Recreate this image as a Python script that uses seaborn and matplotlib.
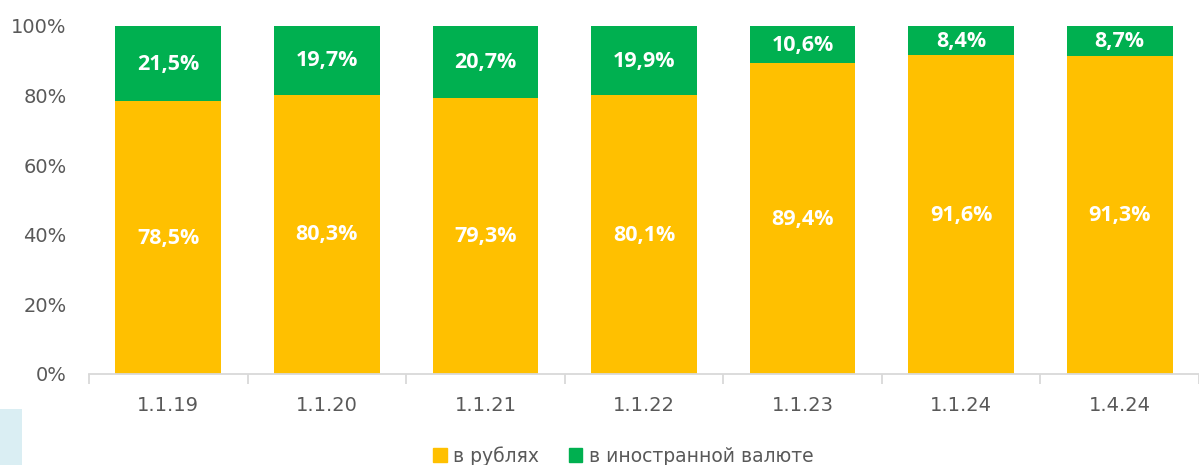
import matplotlib
matplotlib.use("Agg")
import matplotlib.pyplot as plt
import matplotlib.patches as mpatches
import matplotlib.transforms as mtransforms
from matplotlib.ticker import FixedLocator, PercentFormatter
import seaborn as sns
import pandas as pd

dates = ["1.1.19", "1.1.20", "1.1.21", "1.1.22", "1.1.23", "1.1.24", "1.4.24"]
rub_share = [78.5, 80.3, 79.3, 80.1, 89.4, 91.6, 91.3]
fx_share = [21.5, 19.7, 20.7, 19.9, 10.6, 8.4, 8.7]

rub_color = "#FFC000"
fx_color = "#00B050"
text_gray = "#595959"

df = pd.DataFrame({"date": dates, "rub": rub_share, "fx": fx_share})
df["total"] = df["rub"] + df["fx"]

sns.set_theme(style="white")
plt.rcParams["font.family"] = ["DejaVu Sans"]

fig = plt.figure(figsize=(11.99, 4.65), dpi=100)
ax = fig.add_axes([0.0742, 0.1957, 0.9258, 0.7484])

# stacked bars: foreign-currency segment sits on top of the ruble segment
sns.barplot(data=df, x="date", y="total", color=fx_color, width=0.667,
            saturation=1, ax=ax, edgecolor="none")
sns.barplot(data=df, x="date", y="rub", color=rub_color, width=0.667,
            saturation=1, ax=ax, edgecolor="none")

label_font = dict(color="white", fontweight="bold", fontstyle="normal",
                  fontsize=15.5, family=["Open Sans", "DejaVu Sans"],
                  ha="center", va="center")
nudge = mtransforms.offset_copy(ax.transData, fig=fig, x=0, y=-0.5, units="points")
for i, (r, f) in enumerate(zip(rub_share, fx_share)):
    ax.text(i, r / 2, f"{r:.1f}%".replace(".", ","), transform=nudge, **label_font)
    ax.text(i, r + f / 2, f"{f:.1f}%".replace(".", ","), transform=nudge, **label_font)

ax.set_ylim(0, 100)
ax.set_xlim(-0.5, len(dates) - 0.5)
ax.yaxis.set_major_locator(FixedLocator([0, 20, 40, 60, 80, 100]))
ax.yaxis.set_major_formatter(PercentFormatter(decimals=0))
ax.set_xlabel("")
ax.set_ylabel("")

for side in ["top", "right", "left"]:
    ax.spines[side].set_visible(False)
ax.spines["bottom"].set_color("#D9D9D9")
ax.spines["bottom"].set_linewidth(1.3)

ax.tick_params(axis="y", length=0, pad=16, labelsize=14, labelcolor=text_gray)
ax.tick_params(axis="x", which="major", length=0, pad=16, labelsize=14,
               labelcolor=text_gray)
ax.xaxis.set_minor_locator(FixedLocator([i - 0.5 for i in range(len(dates) + 1)]))
ax.tick_params(axis="x", which="minor", length=7, width=1.3, color="#D9D9D9",
               direction="out", bottom=True)

handles = [mpatches.Patch(color=rub_color, label="в рублях"),
           mpatches.Patch(color=fx_color, label="в иностранной валюте")]
fig.legend(handles=handles, loc="center", bbox_to_anchor=(0.52, 0.02),
           ncol=2, frameon=False, fontsize=13.5, handlelength=0.7,
           handleheight=0.7, handletextpad=0.35, columnspacing=1.6,
           labelcolor=text_gray)

fig.patches.append(mpatches.Rectangle((0, 0), 22 / 1199, 56 / 465,
                                      transform=fig.transFigure,
                                      facecolor="#DAEEF3", edgecolor="none"))

fig.savefig("out.png", dpi=100)
